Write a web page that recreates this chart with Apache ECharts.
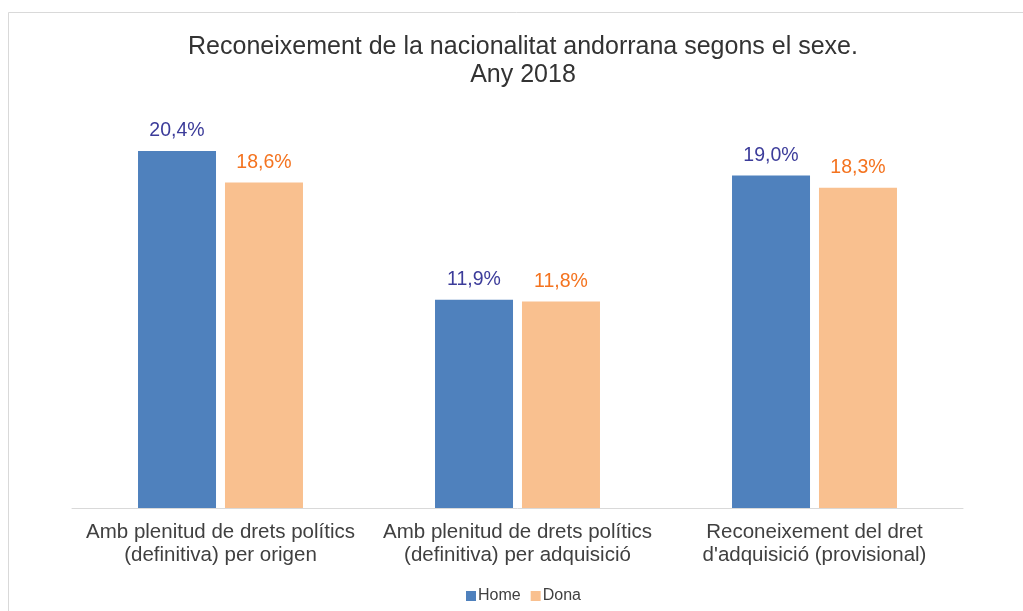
<!DOCTYPE html>
<html>
<head>
<meta charset="utf-8">
<script src="https://cdn.jsdelivr.net/npm/echarts@6/dist/echarts.min.js"></script>
<style>html,body{margin:0;padding:0;background:#fff;}#c{width:1023px;height:611px;}</style>
</head>
<body>
<div id="c"></div>
<script>
const categories = ["Amb plenitud de drets polítics\n(definitiva) per origen", "Amb plenitud de drets polítics\n(definitiva) per adquisició", "Reconeixement del dret\nd'adquisició (provisional)"];
const home = [20.4, 11.9, 19.0];
const dona = [18.6, 11.8, 18.3];
const seriesNames = ["Home", "Dona"];
const titleText = "Reconeixement de la nacionalitat andorrana segons el sexe.\nAny 2018";

const fmt = p => p.value.toFixed(1).replace('.', ',') + '%';
const font = '"Liberation Sans", Arial, sans-serif';
const chart = echarts.init(document.getElementById('c'), null, {renderer: 'canvas'});
chart.setOption({
  animation: false,
  backgroundColor: '#fff',
  textStyle: {fontFamily: font},
  graphic: [{
    type: 'rect', shape: {x: 8.5, y: 12.5, width: 1030, height: 620},
    style: {fill: 'none', stroke: '#d9d9d9', lineWidth: 1}, silent: true
  }],
  title: {
    text: titleText, left: 518, top: 28, textAlign: 'center',
    textStyle: {fontFamily: font, fontSize: 25, fontWeight: 'normal', color: '#333', lineHeight: 28}
  },
  legend: {
    data: seriesNames, bottom: 2, left: 461, itemWidth: 10, itemHeight: 10, itemGap: 10,
    icon: 'rect', textStyle: {fontFamily: font, fontSize: 16, color: '#404040', padding: [0, 0, 0, -3]}
  },
  grid: {left: 72, right: 60, top: 88, bottom: 103, containLabel: false},
  xAxis: {
    type: 'category', data: categories,
    axisLine: {lineStyle: {color: '#d9d9d9', width: 1}},
    axisTick: {show: false},
    axisLabel: {fontFamily: font, fontSize: 20.5, color: '#404040', lineHeight: 23, margin: 13, interval: 0}
  },
  yAxis: {type: 'value', min: 0, max: 24, show: false, splitLine: {show: false}},
  series: [
    {name: seriesNames[0], type: 'bar', data: home, barWidth: 78, barGap: '11.5%',
     itemStyle: {color: '#4f81bd'},
     label: {show: true, position: 'top', distance: 10, formatter: fmt, fontFamily: font, fontSize: 19.5, color: '#3c3c9a'}},
    {name: seriesNames[1], type: 'bar', data: dona, barWidth: 78,
     itemStyle: {color: '#f9c08f'},
     label: {show: true, position: 'top', distance: 10, formatter: fmt, fontFamily: font, fontSize: 19.5, color: '#f4731f'}}
  ]
});
</script>
</body>
</html>
